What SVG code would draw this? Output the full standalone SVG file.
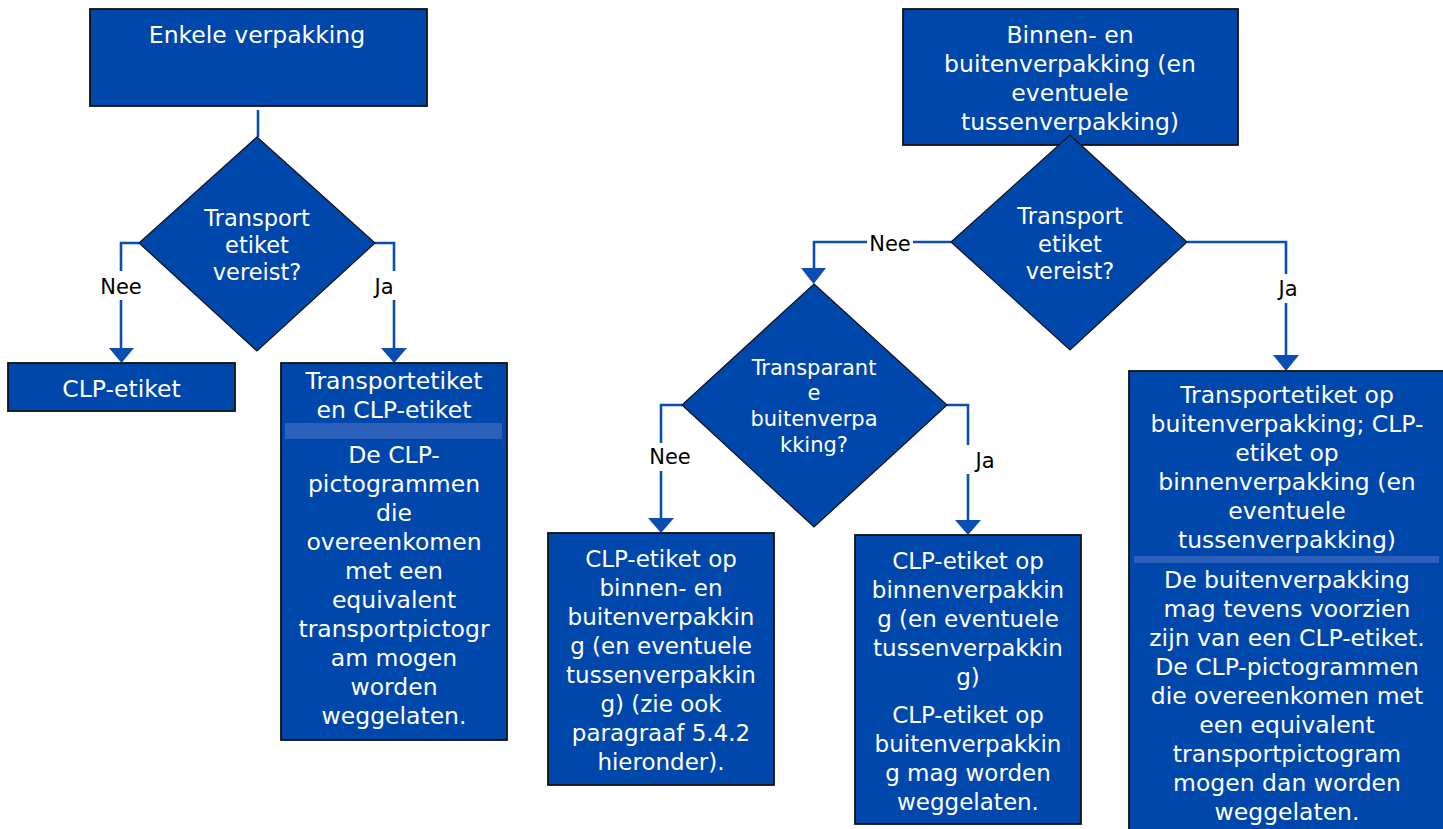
<svg xmlns="http://www.w3.org/2000/svg" width="1443" height="829" viewBox="0 0 1443 829">
<style>
.box{fill:#0047AB;stroke:#111;stroke-width:1.8}
.dia{fill:#0047AB;stroke:#111;stroke-width:1.2}
.sep{fill:#2C60B9}
.t{font-family:"DejaVu Sans",Verdana,sans-serif;fill:#fff;text-anchor:middle}
.tb{font-size:23.5px}
.tm{font-size:23px}
.td{font-size:22.5px}
.ts{font-size:21px}
.lbl{font-family:"DejaVu Sans",Verdana,sans-serif;font-size:21px;fill:#000;text-anchor:middle}
.ln{fill:none;stroke:#0A4DB3;stroke-width:2.6}
.ah{fill:#0A4DB3}
.gap{fill:#fff}
</style>
<rect width="1443" height="829" fill="#fff"/>

<g id="connectors">
  <path class="ln" d="M258,110 V137"/>
  <path class="ln" d="M139,243 H121 V350"/>
  <path class="ln" d="M375,243 H394 V350"/>
  <path class="ln" d="M1070,118 V136"/>
  <path class="ln" d="M951,242 H814 V270"/>
  <path class="ln" d="M1187,242 H1286 V357"/>
  <path class="ln" d="M682,405 H661 V520"/>
  <path class="ln" d="M947,405 H968 V522"/>
  <polygon class="ah" points="109,348 134,348 121.5,363"/>
  <polygon class="ah" points="381,348 407,348 394,363"/>
  <polygon class="ah" points="801,268 826,268 813.5,284"/>
  <polygon class="ah" points="1273,355 1299,355 1286,371"/>
  <polygon class="ah" points="648,518 674,518 661,533"/>
  <polygon class="ah" points="955,520 981,520 968,535"/>
  <rect class="gap" x="99" y="271" width="44" height="29"/>
  <text class="lbl" x="121" y="294">Nee</text>
  <rect class="gap" x="370" y="271" width="30" height="29"/>
  <text class="lbl" x="384" y="294">Ja</text>
  <rect class="gap" x="867" y="231" width="46" height="24"/>
  <text class="lbl" x="890" y="251">Nee</text>
  <rect class="gap" x="1272" y="274" width="30" height="29"/>
  <text class="lbl" x="1288" y="296">Ja</text>
  <rect class="gap" x="648" y="443" width="45" height="28"/>
  <text class="lbl" x="670" y="464">Nee</text>
  <rect class="gap" x="962" y="445" width="36" height="29"/>
  <text class="lbl" x="985" y="468">Ja</text>
</g>

<g id="node-enkele">
  <rect class="box" x="90" y="9" width="337" height="97"/>
  <text class="t tb" x="257" y="43">Enkele verpakking</text>
</g>

<g id="node-q1">
  <polygon class="dia" points="257,137 375,243 257,351 139,243"/>
  <text class="t td" x="257" y="226">Transport</text>
  <text class="t td" x="257" y="253">etiket</text>
  <text class="t td" x="257" y="280">vereist?</text>
</g>

<g id="node-clp">
  <rect class="box" x="8" y="363" width="227" height="48"/>
  <text class="t tb" x="121.5" y="397">CLP-etiket</text>
</g>

<g id="node-transport-clp">
  <rect class="box" x="281" y="363" width="226" height="377"/>
  <rect class="sep" x="285" y="423" width="217" height="16"/>
  <text class="t tb" x="394" y="389">Transportetiket</text>
  <text class="t tb" x="394" y="418">en CLP-etiket</text>
  <text class="t tb" x="394" y="463">De CLP-</text>
  <text class="t tb" x="394" y="492">pictogrammen</text>
  <text class="t tb" x="394" y="521">die</text>
  <text class="t tb" x="394" y="550">overeenkomen</text>
  <text class="t tb" x="394" y="579">met een</text>
  <text class="t tb" x="394" y="608">equivalent</text>
  <text class="t tb" x="394" y="637">transportpictogr</text>
  <text class="t tb" x="394" y="666">am mogen</text>
  <text class="t tb" x="394" y="695">worden</text>
  <text class="t tb" x="394" y="724">weggelaten.</text>
</g>

<g id="node-binnen-buiten">
  <rect class="box" x="903" y="9" width="335" height="136"/>
  <text class="t tb" x="1070" y="43">Binnen- en</text>
  <text class="t tb" x="1070" y="72">buitenverpakking (en</text>
  <text class="t tb" x="1070" y="101">eventuele</text>
  <text class="t tb" x="1070" y="130">tussenverpakking)</text>
</g>

<g id="node-q2">
  <polygon class="dia" points="1070,135 1187,242 1070,350 951,242"/>
  <text class="t td" x="1070" y="224">Transport</text>
  <text class="t td" x="1070" y="252">etiket</text>
  <text class="t td" x="1070" y="279">vereist?</text>
</g>

<g id="node-q3">
  <polygon class="dia" points="814,284 947,405 814,527 682,405"/>
  <text class="t ts" x="814" y="375">Transparant</text>
  <text class="t ts" x="814" y="400">e</text>
  <text class="t ts" x="814" y="426">buitenverpa</text>
  <text class="t ts" x="814" y="452">kking?</text>
</g>

<g id="node-clp-binnen-buiten">
  <rect class="box" x="548" y="533" width="226" height="252"/>
  <text class="t tm" x="661" y="567">CLP-etiket op</text>
  <text class="t tm" x="661" y="596">binnen- en</text>
  <text class="t tm" x="661" y="625">buitenverpakkin</text>
  <text class="t tm" x="661" y="654">g (en eventuele</text>
  <text class="t tm" x="661" y="683">tussenverpakkin</text>
  <text class="t tm" x="661" y="712">g) (zie ook</text>
  <text class="t tm" x="661" y="741">paragraaf 5.4.2</text>
  <text class="t tm" x="661" y="770">hieronder).</text>
</g>

<g id="node-clp-binnen">
  <rect class="box" x="855" y="535" width="226" height="289"/>
  <text class="t tm" x="968" y="569">CLP-etiket op</text>
  <text class="t tm" x="968" y="598">binnenverpakkin</text>
  <text class="t tm" x="968" y="627">g (en eventuele</text>
  <text class="t tm" x="968" y="656">tussenverpakkin</text>
  <text class="t tm" x="968" y="685">g)</text>
  <text class="t tm" x="968" y="723">CLP-etiket op</text>
  <text class="t tm" x="968" y="752">buitenverpakkin</text>
  <text class="t tm" x="968" y="781">g mag worden</text>
  <text class="t tm" x="968" y="810">weggelaten.</text>
</g>

<g id="node-transport-buiten">
  <rect class="box" x="1129" y="371" width="318" height="470"/>
  <rect class="sep" x="1134" y="556" width="305" height="7"/>
  <text class="t tb" x="1287" y="403">Transportetiket op</text>
  <text class="t tb" x="1287" y="432">buitenverpakking; CLP-</text>
  <text class="t tb" x="1287" y="461">etiket op</text>
  <text class="t tb" x="1287" y="490">binnenverpakking (en</text>
  <text class="t tb" x="1287" y="519">eventuele</text>
  <text class="t tb" x="1287" y="548">tussenverpakking)</text>
  <text class="t tb" x="1287" y="588">De buitenverpakking</text>
  <text class="t tb" x="1287" y="617">mag tevens voorzien</text>
  <text class="t tb" x="1287" y="646">zijn van een CLP-etiket.</text>
  <text class="t tb" x="1287" y="675">De CLP-pictogrammen</text>
  <text class="t tb" x="1287" y="704">die overeenkomen met</text>
  <text class="t tb" x="1287" y="733">een equivalent</text>
  <text class="t tb" x="1287" y="762">transportpictogram</text>
  <text class="t tb" x="1287" y="791">mogen dan worden</text>
  <text class="t tb" x="1287" y="820">weggelaten.</text>
</g>
</svg>
